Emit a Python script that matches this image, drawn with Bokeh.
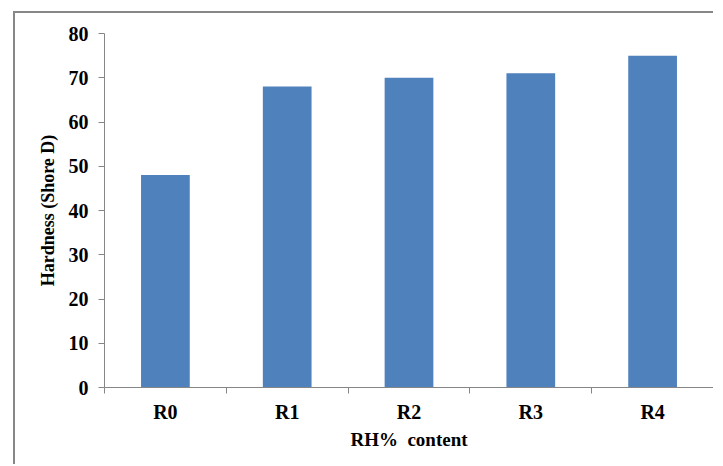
from bokeh.plotting import figure
from bokeh.models import Range1d, FixedTicker
from bokeh.embed import file_html
from bokeh.resources import INLINE

categories = ["R0", "R1", "R2", "R3", "R4"]
hardness = [48, 68, 70, 71, 75]
y_ticks = [0, 10, 20, 30, 40, 50, 60, 70, 80]

x_pos = [i + 0.5 for i in range(len(categories))]

p = figure(width=700, height=453, output_backend="svg", toolbar_location=None,
           x_range=Range1d(0, len(categories)), y_range=Range1d(0, 80),
           min_border_left=89, min_border_right=2, min_border_top=20, min_border_bottom=79)
p.margin = (11, 0, 0, 13)
p.styles = {"border-left": "2px solid #888888", "border-top": "2px solid #888888"}

p.vbar(x=x_pos, top=hardness, width=0.4, bottom=0, fill_color="#4F81BD", line_color=None)

p.outline_line_color = None
p.xgrid.grid_line_color = None
p.ygrid.grid_line_color = None

font = "Liberation Serif"
ax = p.xaxis[0]
ax.ticker = FixedTicker(ticks=x_pos, minor_ticks=list(range(len(categories) + 1)))
ax.major_label_overrides = {x: c for x, c in zip(x_pos, categories)}
ax.major_tick_line_color = None
ax.major_tick_out = 0
ax.major_tick_in = 0
ax.minor_tick_out = 6
ax.minor_tick_in = 0
ax.minor_tick_line_color = "#868686"
ax.axis_line_color = "#868686"
ax.major_label_text_font = font
ax.major_label_text_font_style = "bold"
ax.major_label_text_font_size = "20px"
ax.major_label_text_color = "black"
ax.major_label_standoff = 7
ax.axis_label = "RH%\u00a0\u00a0content"
ax.axis_label_text_font = font
ax.axis_label_text_font_style = "bold"
ax.axis_label_text_font_size = "19px"
ax.axis_label_text_color = "black"
ax.axis_label_standoff = 3

ay = p.yaxis[0]
ay.ticker = FixedTicker(ticks=y_ticks)
ay.major_tick_out = 6
ay.major_tick_in = 0
ay.minor_tick_line_color = None
ay.major_tick_line_color = "#868686"
ay.axis_line_color = "#868686"
ay.major_label_text_font = font
ay.major_label_text_font_style = "bold"
ay.major_label_text_font_size = "20px"
ay.major_label_text_color = "black"
ay.major_label_standoff = 10
ay.axis_label = "Hardness (Shore D)"
ay.axis_label_text_font = font
ay.axis_label_text_font_style = "bold"
ay.axis_label_text_font_size = "18px"
ay.axis_label_text_color = "black"
ay.axis_label_standoff = 8

open("out.html", "w").write(file_html(p, INLINE))
